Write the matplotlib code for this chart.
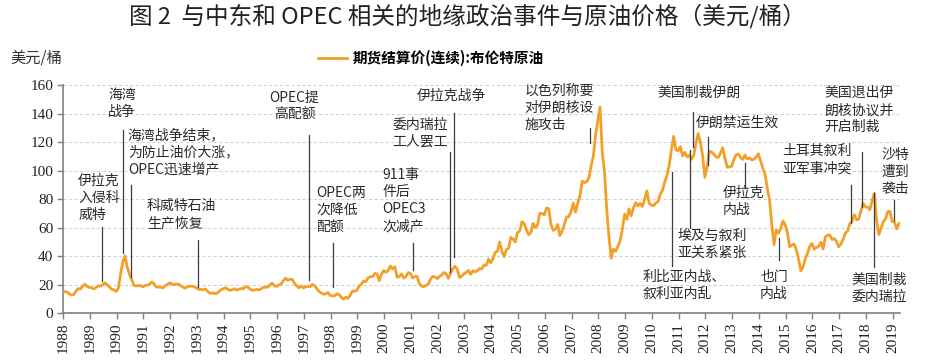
import matplotlib
matplotlib.use("Agg")
from matplotlib import pyplot as plt
import numpy as np

plt.rcParams['font.family'] = ['Noto Sans CJK SC', 'DejaVu Sans']

# ICE Brent continuous futures, monthly levels (USD/bbl)
start_year, start_month = 1988, 6
brent = [
    15.7, 14.9, 14.8, 13.4, 12.6, 12.9, 15.2,                                  # 1988 (Jun-Dec)
    17.2, 16.9, 18.7, 20.3, 18.6, 17.9, 17.8, 16.9, 17.9, 19.1, 18.8, 19.9,    # 1989
    21.2, 19.8, 18.4, 16.6, 16.3, 15.1, 17.2, 27.2, 35.5, 40.0, 32.3, 27.3,    # 1990
    23.6, 19.5, 19.1, 19.2, 19.2, 18.3, 19.4, 19.6, 20.2, 21.7, 20.6, 18.2,    # 1991
    18.2, 18.2, 17.6, 19.1, 20.0, 21.1, 20.4, 19.9, 20.3, 20.3, 19.1, 18.2,    # 1992
    17.4, 18.5, 18.8, 18.7, 18.6, 17.6, 16.6, 16.6, 16.3, 16.9, 15.2, 13.9,    # 1993
    14.2, 13.7, 13.6, 14.9, 16.2, 16.9, 17.8, 16.8, 15.9, 16.2, 17.1, 16.0,    # 1994
    16.6, 17.2, 16.9, 18.4, 18.3, 17.0, 15.9, 16.1, 16.6, 16.2, 17.0, 18.0,    # 1995
    18.0, 18.2, 19.9, 21.0, 19.1, 18.7, 19.7, 20.3, 22.6, 24.4, 23.0, 23.7,    # 1996
    23.5, 20.8, 19.1, 17.6, 19.0, 17.6, 18.5, 18.6, 18.6, 20.1, 19.2, 17.1,    # 1997
    15.1, 14.1, 13.2, 13.4, 14.4, 12.2, 12.1, 12.0, 13.4, 12.9, 11.0, 9.8,     # 1998
    11.1, 10.3, 12.5, 15.3, 15.3, 15.9, 19.1, 20.3, 22.5, 22.0, 24.6, 25.5,    # 1999
    25.5, 27.8, 27.5, 22.8, 27.3, 29.8, 28.5, 29.9, 33.0, 30.9, 32.5, 25.1,    # 2000
    25.6, 27.5, 24.5, 25.6, 28.4, 27.7, 24.5, 25.7, 25.6, 20.5, 18.9, 18.6,    # 2001
    19.4, 20.3, 23.7, 25.7, 25.4, 24.1, 25.7, 26.6, 28.4, 27.5, 24.3, 28.0,    # 2002
    31.2, 32.8, 30.6, 25.0, 25.8, 27.6, 28.4, 29.8, 27.1, 29.6, 28.8, 29.8,    # 2003
    31.2, 30.9, 33.8, 33.4, 37.9, 35.2, 38.2, 42.7, 43.2, 49.8, 43.1, 39.6,    # 2004
    44.5, 45.5, 53.1, 51.9, 49.8, 56.4, 57.6, 64.1, 62.8, 58.2, 55.0, 56.5,    # 2005
    62.9, 60.0, 62.0, 70.0, 69.8, 68.9, 73.7, 73.2, 62.0, 58.0, 58.9, 62.1,    # 2006
    54.3, 57.6, 62.1, 67.5, 67.5, 71.3, 77.2, 70.8, 77.1, 82.3, 92.5, 91.5,    # 2007
    92.2, 94.8, 103.3, 110.2, 124.6, 135.0, 144.5, 113.0, 99.0, 72.8, 53.2, 38.5,  # 2008
    44.9, 43.2, 46.8, 50.8, 58.6, 69.3, 65.8, 73.1, 68.2, 73.9, 77.5, 75.2,    # 2009
    76.9, 74.7, 79.9, 85.7, 77.0, 75.7, 75.4, 77.1, 78.2, 83.5, 86.1, 92.0,    # 2010
    96.5, 103.7, 114.6, 124.0, 114.5, 113.9, 116.7, 110.2, 112.8, 109.6, 110.8, 107.9,  # 2011
    110.7, 119.3, 126.0, 119.8, 110.3, 95.2, 102.6, 113.4, 113.0, 111.5, 109.5, 109.2,  # 2012
    112.3, 116.1, 108.5, 102.3, 102.6, 102.9, 107.7, 111.0, 111.6, 109.1, 107.8, 110.8,  # 2013
    108.1, 108.9, 107.5, 107.8, 109.5, 111.8, 106.8, 101.6, 97.1, 87.4, 79.4, 62.3,     # 2014
    47.8, 58.1, 55.9, 59.5, 64.6, 61.9, 56.5, 46.5, 47.6, 48.4, 44.3, 38.0,    # 2015
    29.5, 32.2, 38.2, 41.6, 46.7, 48.8, 44.7, 46.0, 46.8, 49.7, 45.0, 53.3,    # 2016
    54.6, 54.9, 51.6, 52.3, 50.3, 46.4, 48.5, 51.7, 56.2, 57.5, 62.7, 64.4,    # 2017
    69.1, 65.3, 66.0, 72.1, 76.9, 74.4, 74.3, 72.5, 78.9, 84.0, 64.8, 55.0,    # 2018
    59.4, 64.0, 66.1, 71.2, 71.3, 64.2, 63.9, 59.0, 62.8,                      # 2019 (Jan-Sep)
]
years = list(range(1988, 2020))
series_name = '期货结算价(连续):布伦特原油'

# events: (label, text x, text top y, align, pointer x, pointer y from, pointer y to)
events = [
    ('伊拉克\n入侵科\n威特', 1989.04, 97.5, 'left', 1989.93, 60.4, 22.5),
    ('海湾\n战争', 1990.68, 158.0, 'center', 1990.72, 128.4, 42.1),
    ('海湾战争结束，\n为防止油价大涨，\nOPEC迅速增产', 1990.90, 129.8, 'left', 1991.01, 89.8, 25.3),
    ('科威特石油\n生产恢复', 1991.61, 80.0, 'left', 1993.51, 51.2, 18.2),
    ('OPEC提\n高配额', 1997.13, 155.8, 'center', 1997.66, 124.9, 23.2),
    ('OPEC两\n次降低\n配额', 1997.95, 89.1, 'left', 1998.55, 49.1, 18.2),
    ('911事\n件后\nOPEC3\n次减产', 2000.42, 101.8, 'left', 2001.57, 49.1, 30.2),
    ('委内瑞拉\n工人罢工', 2000.79, 136.8, 'left', 2002.92, 113.0, 28.8),
    ('伊拉克战争', 2001.69, 157.0, 'left', 2003.10, 140.4, 39.3),
    ('以色列称要\n对伊朗核设\n施攻击', 2005.72, 160.7, 'left', 2008.18, 129.8, 119.3),
    ('美国制裁伊朗', 2010.68, 159.3, 'left', 2012.02, 141.0, 116.5),
    ('伊朗禁运生效', 2012.13, 138.2, 'left', 2012.58, 123.5, 103.9),
    ('伊拉克\n内战', 2013.14, 89.1, 'left', 2013.96, 105.3, 87.7),
    ('埃及与叙利\n亚关系紧张', 2011.43, 58.9, 'left', 2011.91, 114.4, 59.6),
    ('利比亚内战、\n叙利亚内乱', 2010.12, 30.2, 'left', 2011.24, 98.9, 33.0),
    ('也门\n内战', 2015.04, 30.2, 'center', 2015.23, 52.6, 37.2),
    ('土耳其叙利\n亚军事冲突', 2015.34, 118.6, 'left', 2017.92, 89.8, 63.2),
    ('美国退出伊\n朗核协议并\n开启制裁', 2016.91, 159.3, 'left', 2018.33, 113.0, 74.4),
    ('美国制裁\n委内瑞拉', 2017.92, 28.1, 'left', 2018.77, 84.2, 32.3),
    ('沙特\n遭到\n袭击', 2019.07, 115.8, 'left', 2019.52, 79.3, 65.3),
]


def main():
    n = len(brent)
    months = np.arange(n) + (start_month - 1)
    t = start_year + (months + 0.5) / 12.0

    fig = plt.figure(figsize=(9.35, 3.63), dpi=100)
    ax = fig.add_axes([0.0674, 0.1377, 0.8952, 0.6281])

    ax.plot(t, brent, color='#F2A02A', lw=2.0, label=series_name, zorder=3)

    for label, tx, ty, ha, lx, ly0, ly1 in events:
        ax.plot([lx, lx], [ly0, ly1], color='#3c3c3c', lw=0.9, zorder=4)
        ax.text(tx, ty, label, ha=ha, va='top', fontsize=10, color='#2a2a2a',
                linespacing=1.28, zorder=5)

    # tick labels sit at the anniversary of the first trading day (23 Jun)
    ax.set_xticks([y + 0.477 for y in years])
    ax.set_xticklabels([str(y) for y in years], rotation=90,
                       family='Liberation Serif', fontsize=11, color='#222222')
    ax.set_xlim(1988.477, 2019.75)
    ax.set_ylim(0, 160)
    ax.set_yticks(range(0, 161, 20))
    ax.set_yticklabels([str(v) for v in range(0, 161, 20)],
                       family='Liberation Serif', fontsize=11, color='#222222')

    ax.grid(axis='y', color='#d4d4d4', ls=(0, (3, 2)), lw=0.8)
    ax.set_axisbelow(True)
    for s in ['top', 'right']:
        ax.spines[s].set_visible(False)
    for s in ['left', 'bottom']:
        ax.spines[s].set_color('#808080')
        ax.spines[s].set_linewidth(1.2)
    ax.tick_params(axis='both', color='#808080', length=4, width=1.0, pad=3)

    ax.legend(loc='center left', bbox_to_anchor=(0.326, 1 - 58 / 363),
              bbox_transform=fig.transFigure, frameon=False, handlelength=2.0,
              handletextpad=0.4, prop={'size': 10.5, 'weight': 'bold'})
    fig.text(0.011, 1 - 58 / 363, '美元/桶', fontsize=11, va='center',
             color='#333333')
    fig.text(0.5, 1 - 16 / 363, '图 2  与中东和 OPEC 相关的地缘政治事件与原油价格（美元/桶）',
             ha='center', va='center', fontsize=17, color='#222222')

    fig.savefig('out.png', dpi=100)


if __name__ == "__main__":
    main()
